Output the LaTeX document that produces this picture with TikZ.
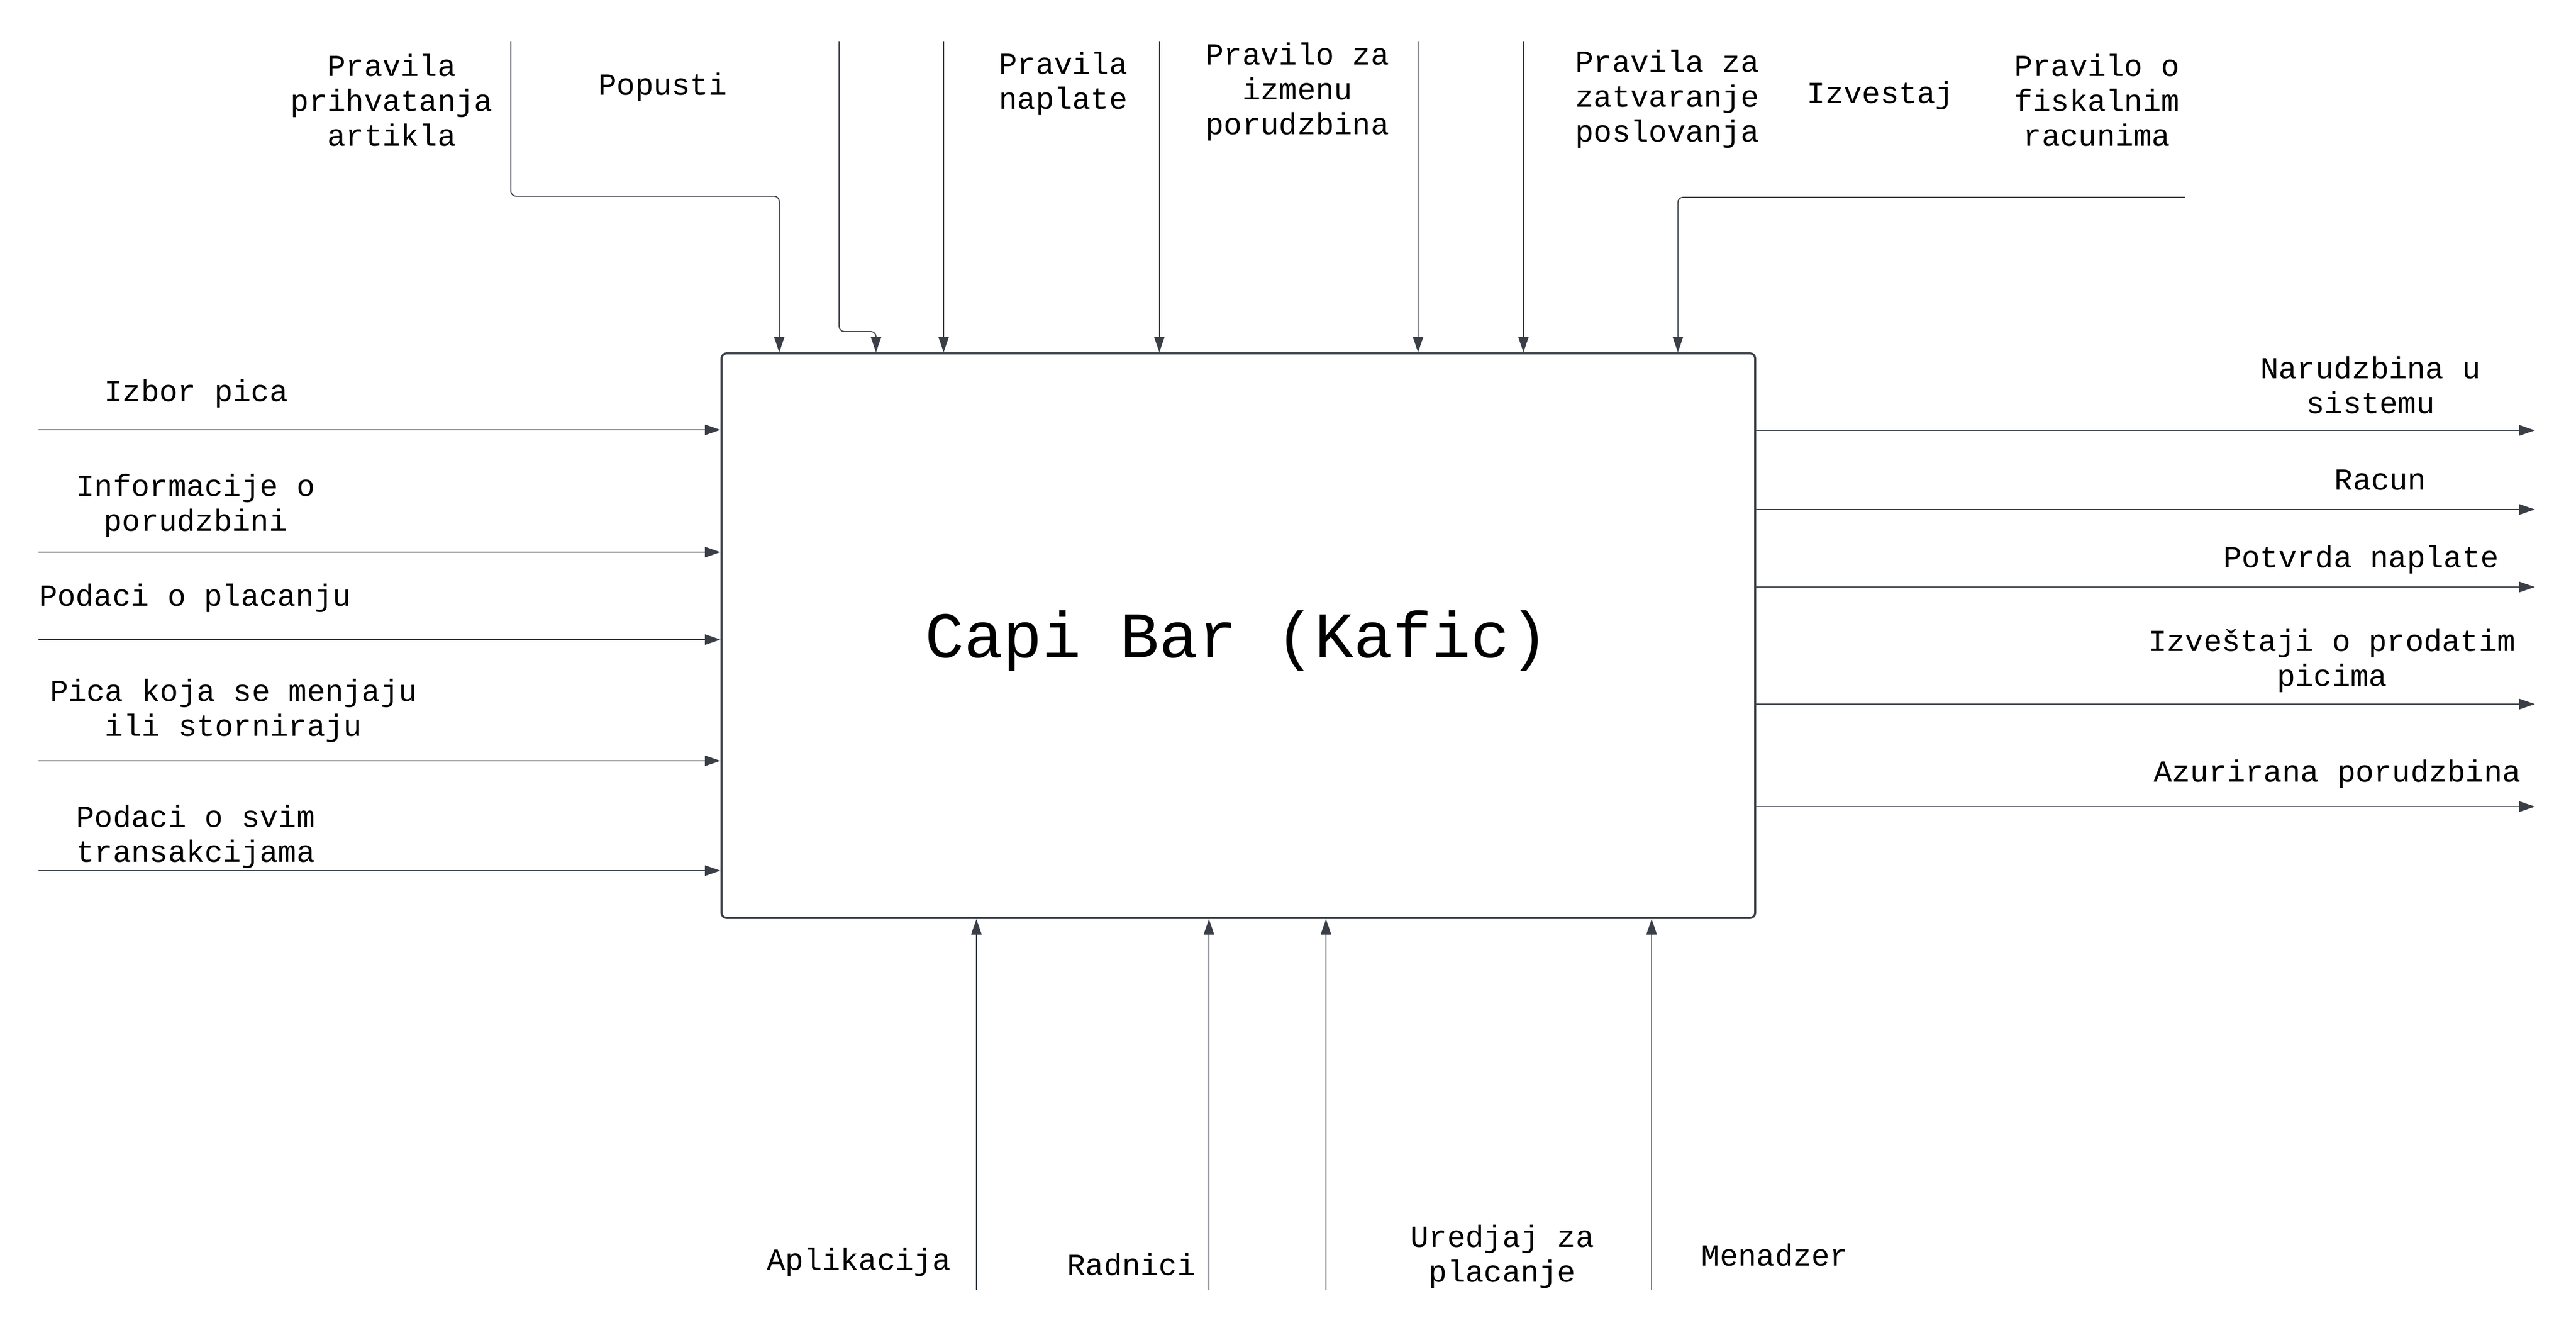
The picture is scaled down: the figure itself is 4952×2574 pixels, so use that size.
\documentclass[tikz,border=0pt]{standalone}
\usepackage{fontspec}
\setmainfont{Liberation Mono}
\usetikzlibrary{arrows.meta}
\definecolor{ln}{HTML}{3A3F47}
\begin{document}
\begin{tikzpicture}[x=0.25pt,y=-0.25pt,
  lbl/.style={font=\fontsize{14.7}{16.75}\selectfont, align=center, inner sep=0pt, text=black},
  flow/.style={draw=ln, line width=0.5pt, -{Triangle[length=7.5pt,width=5pt]}},
  ]
\useasboundingbox[fill=white] (0,0) rectangle (4952,2574);
% main box
\node[draw=ln, line width=1pt, rounded corners=2.5pt, minimum width=496.75pt, minimum height=271.25pt,
      inner sep=0pt] (box) at (2380.5,1221.5) {};
\node[font=\fontsize{31.2}{36}\selectfont, inner sep=0pt] (title) at (2378,1231) {Capi Bar (Kafic)};

% ---- top labels (controls)
\node[lbl] (tl1) at (753,192) {Pravila\\prihvatanja\\artikla};
\node[lbl] (tl2) at (1274,167) {Popusti};
\node[lbl] (tl3) at (2044,161) {Pravila\\naplate};
\node[lbl] (tl4) at (2494,176) {Pravilo za\\izmenu\\porudzbina};
\node[lbl] (tl5) at (3205,190) {Pravila za\\zatvaranje\\poslovanja};
\node[lbl] (tl6) at (3615,183) {Izvestaj};
\node[lbl] (tl7) at (4031,192) {Pravilo o\\fiskalnim\\racunima};

% ---- left labels (inputs)
\node[lbl] (ll1) at (377,756) {Izbor pica};
\node[lbl] (ll2) at (376,972) {Informacije o\\porudzbini};
\node[lbl] (ll3) at (375,1149) {Podaci o placanju};
\node[lbl] (ll4) at (449,1366) {Pica koja se menjaju\\ili storniraju};
\node[lbl] (ll5) at (376,1608) {Podaci o svim\\transakcijama};

% ---- right labels (outputs)
\node[lbl] (rl1) at (4557,740) {Narudzbina u\\sistemu};
\node[lbl] (rl2) at (4576,922) {Racun};
\node[lbl] (rl3) at (4539,1075) {Potvrda naplate};
\node[lbl] (rl4) at (4483,1270) {Izveštaji o prodatim\\picima};
\node[lbl] (rl5) at (4493,1487) {Azurirana porudzbina};

% ---- bottom labels (mechanisms)
\node[lbl] (bl1) at (1651,2425) {Aplikacija};
\node[lbl] (bl2) at (2175,2430) {Radnici};
\node[lbl] (bl3) at (2888,2415) {Uredjaj za\\placanje};
\node[lbl] (bl4) at (3412,2412) {Menadzer};

% ---- control arrows
\coordinate (c1) at (982,79);   \coordinate (c1b) at (1498,377);
\coordinate (c2) at (1613,79);  \coordinate (c2b) at (1684,637);
\coordinate (c3) at (1814,79);
\coordinate (c4) at (2228.6,79);
\coordinate (c5) at (2726,79);
\coordinate (c6) at (2928.6,79);
\coordinate (c7) at (4200,379); \coordinate (c7b) at (3225.5,379);
\draw[flow, rounded corners=2.5pt] (c1) |- (c1b) -- (c1b |- box.north);
\draw[flow, rounded corners=2.5pt] (c2) |- (c2b) -- (c2b |- box.north);
\draw[flow] (c3) -- (c3 |- box.north);
\draw[flow] (c4) -- (c4 |- box.north);
\draw[flow] (c5) -- (c5 |- box.north);
\draw[flow] (c6) -- (c6 |- box.north);
\draw[flow, rounded corners=2.5pt] (c7) -- (c7b) -- (c7b |- box.north);

% ---- input arrows
\coordinate (i1) at (74,826);
\coordinate (i2) at (74,1061);
\coordinate (i3) at (74,1229);
\coordinate (i4) at (74,1462);
\coordinate (i5) at (74,1673);
\foreach \i in {i1,i2,i3,i4,i5} \draw[flow] (\i) -- (\i -| box.west);

% ---- output arrows
\coordinate (o1) at (4873,827);
\coordinate (o2) at (4873,979);
\coordinate (o3) at (4873,1128);
\coordinate (o4) at (4873,1353);
\coordinate (o5) at (4873,1550);
\foreach \o in {o1,o2,o3,o4,o5} \draw[flow] (\o -| box.east) -- (\o);

% ---- mechanism arrows
\coordinate (m1) at (1877,2479);
\coordinate (m2) at (2324,2479);
\coordinate (m3) at (2549,2479);
\coordinate (m4) at (3175,2479);
\foreach \m in {m1,m2,m3,m4} \draw[flow] (\m) -- (\m |- box.south);
\end{tikzpicture}
\end{document}
